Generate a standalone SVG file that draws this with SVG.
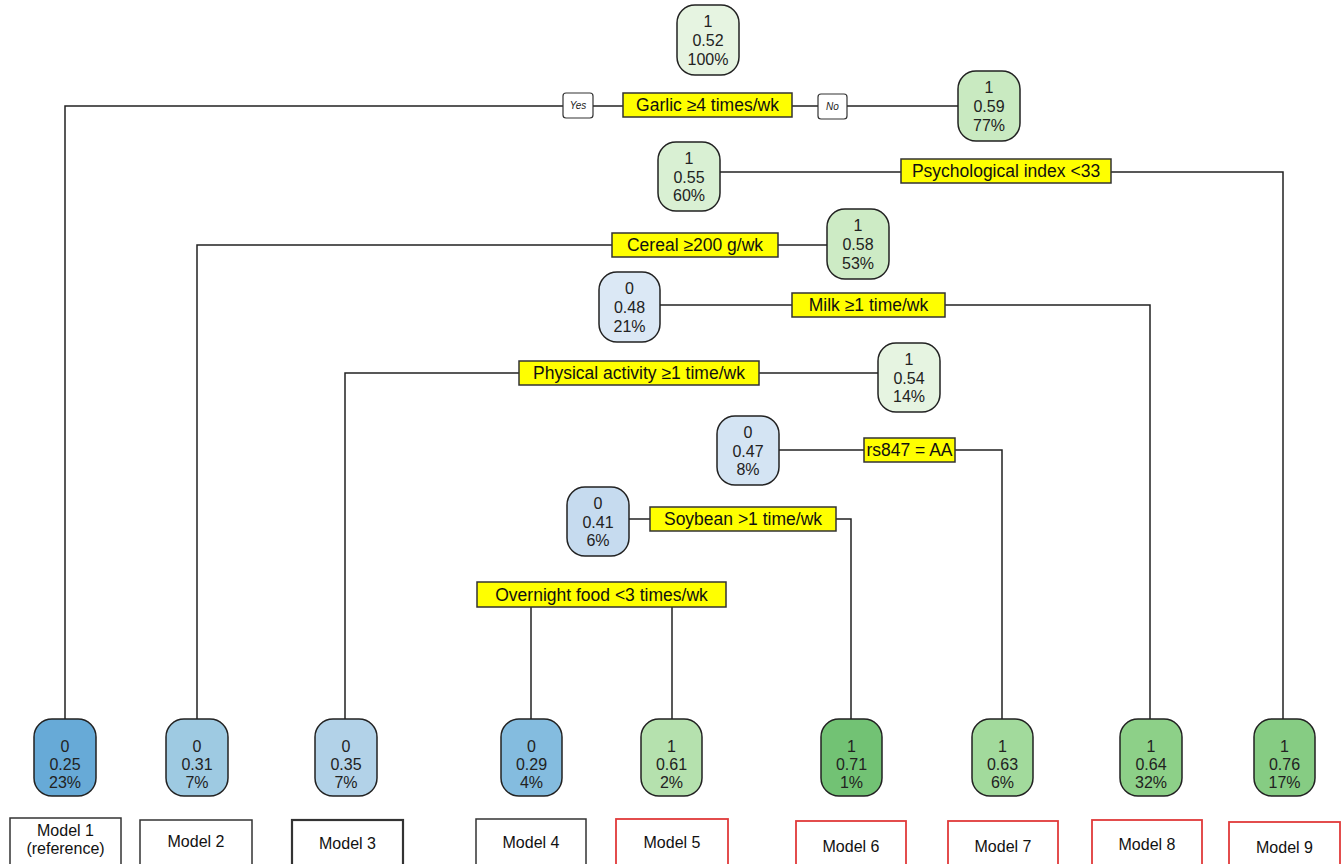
<svg xmlns="http://www.w3.org/2000/svg" width="1343" height="864" viewBox="0 0 1343 864">
<style>
.bg{fill:#ffffff}
.n{stroke:#222;stroke-width:1.5}
.nt{font-family:"Liberation Sans",Arial,sans-serif;font-size:16px;fill:#222;text-anchor:middle}
.sp{fill:#ffff00;stroke:#333;stroke-width:1.5}
.st{font-family:"Liberation Sans",Arial,sans-serif;font-size:17.5px;fill:#111;text-anchor:middle}
.yn{fill:#fff;stroke:#333;stroke-width:1.2}
.ynt{font-family:"Liberation Sans",Arial,sans-serif;font-size:10px;font-style:italic;fill:#222;text-anchor:middle}
.c{fill:none;stroke:#222;stroke-width:1.5}
.mb{fill:#fff;stroke:#333;stroke-width:1.5}
.mr{fill:#fff;stroke:#e03a3a;stroke-width:1.8}
.mt{font-family:"Liberation Sans",Arial,sans-serif;font-size:16px;fill:#111;text-anchor:middle}
</style>
<rect class="bg" x="0" y="0" width="1343" height="864"/>
<g id="connectors">
<polyline class="c" points="65,719 65,106 563,106"/>
<line class="c" x1="593" y1="106" x2="623" y2="106"/>
<line class="c" x1="792" y1="106" x2="818" y2="106"/>
<line class="c" x1="847" y1="106" x2="958" y2="106"/>
<line class="c" x1="720" y1="172" x2="901" y2="172"/>
<polyline class="c" points="1111,172 1283,172 1283,719"/>
<polyline class="c" points="197,719 197,245 612,245"/>
<line class="c" x1="778" y1="245" x2="827" y2="245"/>
<line class="c" x1="660" y1="305" x2="792" y2="305"/>
<polyline class="c" points="945,305 1150,305 1150,719"/>
<polyline class="c" points="345,719 345,373 519,373"/>
<line class="c" x1="759" y1="373" x2="878" y2="373"/>
<line class="c" x1="779" y1="450" x2="864" y2="450"/>
<polyline class="c" points="955,450 1002,450 1002,719"/>
<line class="c" x1="629" y1="519" x2="650" y2="519"/>
<polyline class="c" points="836,519 851,519 851,719"/>
<line class="c" x1="531" y1="607" x2="531" y2="719"/>
<line class="c" x1="672" y1="607" x2="672" y2="719"/>
</g>
<g id="splits">
<g id="yes"><rect class="yn" x="563" y="93" width="30" height="25" rx="3"/><text class="ynt" x="578" y="109">Yes</text></g>
<g id="no"><rect class="yn" x="818" y="94" width="29" height="25" rx="3"/><text class="ynt" x="832.5" y="110">No</text></g>
<g id="split-garlic"><rect class="sp" x="623" y="93" width="169" height="24"/><text class="st" x="707.5" y="111">Garlic ≥4 times/wk</text></g>
<g id="split-psych"><rect class="sp" x="901" y="159" width="210" height="24"/><text class="st" x="1006" y="177">Psychological index &lt;33</text></g>
<g id="split-cereal"><rect class="sp" x="612" y="233" width="166" height="24"/><text class="st" x="695" y="251">Cereal ≥200 g/wk</text></g>
<g id="split-milk"><rect class="sp" x="792" y="293" width="153" height="24"/><text class="st" x="868.5" y="311">Milk ≥1 time/wk</text></g>
<g id="split-physical"><rect class="sp" x="519" y="361" width="240" height="24"/><text class="st" x="639" y="379">Physical activity ≥1 time/wk</text></g>
<g id="split-rs847"><rect class="sp" x="864" y="438" width="91" height="24"/><text class="st" x="909.5" y="456">rs847 = AA</text></g>
<g id="split-soybean"><rect class="sp" x="650" y="507" width="186" height="24"/><text class="st" x="743" y="525">Soybean &gt;1 time/wk</text></g>
<g id="split-overnight"><rect class="sp" x="477" y="582" width="249" height="25"/><text class="st" x="601.5" y="601">Overnight food &lt;3 times/wk</text></g>
</g>
<g id="node-root"><rect class="n" x="677" y="5" width="62" height="70" rx="18" fill="#e6f4e1"/><text class="nt" x="708" y="27">1</text><text class="nt" x="708" y="46">0.52</text><text class="nt" x="708" y="65">100%</text></g>
<g id="node-077"><rect class="n" x="958" y="71" width="62" height="70" rx="18" fill="#c9eac1"/><text class="nt" x="989" y="93">1</text><text class="nt" x="989" y="112">0.59</text><text class="nt" x="989" y="131">77%</text></g>
<g id="node-060"><rect class="n" x="658" y="142" width="62" height="69" rx="18" fill="#d9f0d3"/><text class="nt" x="689" y="164">1</text><text class="nt" x="689" y="183">0.55</text><text class="nt" x="689" y="201">60%</text></g>
<g id="node-053"><rect class="n" x="827" y="209" width="62" height="70" rx="18" fill="#cdebc5"/><text class="nt" x="858" y="231">1</text><text class="nt" x="858" y="250">0.58</text><text class="nt" x="858" y="269">53%</text></g>
<g id="node-021"><rect class="n" x="599" y="272" width="61" height="70" rx="18" fill="#dbe8f5"/><text class="nt" x="629.5" y="294">0</text><text class="nt" x="629.5" y="313">0.48</text><text class="nt" x="629.5" y="332">21%</text></g>
<g id="node-014"><rect class="n" x="878" y="343" width="62" height="69" rx="18" fill="#e6f4e1"/><text class="nt" x="909" y="365">1</text><text class="nt" x="909" y="384">0.54</text><text class="nt" x="909" y="402">14%</text></g>
<g id="node-008"><rect class="n" x="717" y="416" width="62" height="69" rx="18" fill="#d4e4f3"/><text class="nt" x="748" y="438">0</text><text class="nt" x="748" y="457">0.47</text><text class="nt" x="748" y="475">8%</text></g>
<g id="node-006"><rect class="n" x="567" y="487" width="62" height="69" rx="18" fill="#c6dbef"/><text class="nt" x="598" y="509">0</text><text class="nt" x="598" y="528">0.41</text><text class="nt" x="598" y="546">6%</text></g>
<g id="leaf-1"><rect class="n" x="34" y="719" width="62" height="77" rx="18" fill="#67aad7"/><text class="nt" x="65" y="752">0</text><text class="nt" x="65" y="770">0.25</text><text class="nt" x="65" y="788">23%</text></g>
<g id="leaf-2"><rect class="n" x="166" y="719" width="62" height="77" rx="18" fill="#9ecae2"/><text class="nt" x="197" y="752">0</text><text class="nt" x="197" y="770">0.31</text><text class="nt" x="197" y="788">7%</text></g>
<g id="leaf-3"><rect class="n" x="315" y="719" width="62" height="77" rx="18" fill="#b2d2e8"/><text class="nt" x="346" y="752">0</text><text class="nt" x="346" y="770">0.35</text><text class="nt" x="346" y="788">7%</text></g>
<g id="leaf-4"><rect class="n" x="501" y="719" width="61" height="77" rx="18" fill="#84bcdf"/><text class="nt" x="531.5" y="752">0</text><text class="nt" x="531.5" y="770">0.29</text><text class="nt" x="531.5" y="788">4%</text></g>
<g id="leaf-5"><rect class="n" x="641" y="719" width="61" height="77" rx="18" fill="#b5e1ae"/><text class="nt" x="671.5" y="752">1</text><text class="nt" x="671.5" y="770">0.61</text><text class="nt" x="671.5" y="788">2%</text></g>
<g id="leaf-6"><rect class="n" x="821" y="719" width="61" height="77" rx="18" fill="#72c274"/><text class="nt" x="851.5" y="752">1</text><text class="nt" x="851.5" y="770">0.71</text><text class="nt" x="851.5" y="788">1%</text></g>
<g id="leaf-7"><rect class="n" x="972" y="719" width="61" height="77" rx="18" fill="#a2da9c"/><text class="nt" x="1002.5" y="752">1</text><text class="nt" x="1002.5" y="770">0.63</text><text class="nt" x="1002.5" y="788">6%</text></g>
<g id="leaf-8"><rect class="n" x="1120" y="719" width="62" height="77" rx="18" fill="#8dd088"/><text class="nt" x="1151" y="752">1</text><text class="nt" x="1151" y="770">0.64</text><text class="nt" x="1151" y="788">32%</text></g>
<g id="leaf-9"><rect class="n" x="1254" y="719" width="61" height="77" rx="18" fill="#86cc83"/><text class="nt" x="1284.5" y="752">1</text><text class="nt" x="1284.5" y="770">0.76</text><text class="nt" x="1284.5" y="788">17%</text></g>
<g id="model-1"><rect class="mb" x="10" y="818" width="111" height="50"/><text class="mt" x="65.5" y="836">Model 1</text><text class="mt" x="65.5" y="854">(reference)</text></g>
<g id="model-2"><rect class="mb" x="140" y="820" width="112" height="48"/><text class="mt" x="196" y="847">Model 2</text></g>
<g id="model-3"><rect class="mb" x="292" y="820" width="111" height="48" style="stroke-width:2.2"/><text class="mt" x="347.5" y="849">Model 3</text></g>
<g id="model-4"><rect class="mb" x="476" y="819" width="110" height="49"/><text class="mt" x="531" y="848">Model 4</text></g>
<g id="model-5"><rect class="mr" x="616" y="819" width="112" height="49"/><text class="mt" x="672" y="848">Model 5</text></g>
<g id="model-6"><rect class="mr" x="796" y="821" width="110" height="47"/><text class="mt" x="851" y="852">Model 6</text></g>
<g id="model-7"><rect class="mr" x="948" y="821" width="110" height="47"/><text class="mt" x="1003" y="852">Model 7</text></g>
<g id="model-8"><rect class="mr" x="1092" y="820" width="110" height="48"/><text class="mt" x="1147" y="850">Model 8</text></g>
<g id="model-9"><rect class="mr" x="1229" y="822" width="111" height="46"/><text class="mt" x="1284.5" y="853">Model 9</text></g>
</svg>
